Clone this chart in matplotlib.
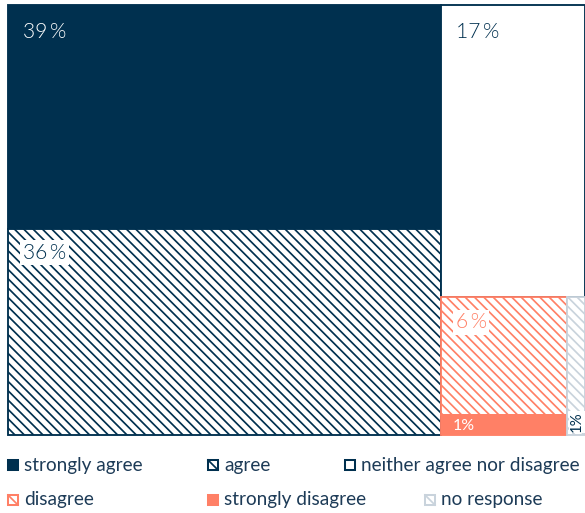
import matplotlib
matplotlib.use("Agg")
import matplotlib.pyplot as plt
import matplotlib.patches as patches

# Data
categories = ["strongly agree", "agree", "neither agree nor disagree",
              "disagree", "strongly disagree", "no response"]
values = [39, 36, 17, 6, 1, 1]

NAVY = "#00304f"
SALMON = "#ff8066"
GREY = "#c9d3dc"
TEXT = "#1d3b57"
HATCH = chr(92) * 4  # backslash hatch, dense

styles = {
    "strongly agree": dict(face=NAVY, edge=NAVY, hatch=None),
    "agree": dict(face="white", edge=NAVY, hatch=HATCH),
    "neither agree nor disagree": dict(face="white", edge=NAVY, hatch=None),
    "disagree": dict(face="white", edge=SALMON, hatch=HATCH),
    "strongly disagree": dict(face=SALMON, edge=SALMON, hatch=None),
    "no response": dict(face="white", edge=GREY, hatch=HATCH),
}

DPI = 112
W_PX, H_PX = 585, 513


def pt(px):
    return px * 72.0 / DPI


def pct(val):
    return f"{val}\u2009%"


plt.rcParams["font.family"] = ["Lato", "DejaVu Sans"]
plt.rcParams["hatch.linewidth"] = 1.1

fig = plt.figure(figsize=(W_PX / DPI, H_PX / DPI), dpi=DPI)
ax = fig.add_axes([8 / W_PX, (H_PX - 435) / H_PX, 577 / W_PX, 430 / H_PX])
ax.set_xlim(0, 100)
ax.set_ylim(100, 0)
ax.axis("off")

# treemap layout: left column (agree side), right column (rest)
total = float(sum(values))
v = dict(zip(categories, values))
rects = {}
left_w = 100 * (v["strongly agree"] + v["agree"]) / total
y = 0
for c in ["strongly agree", "agree"]:
    h = 100 * v[c] / (v["strongly agree"] + v["agree"])
    rects[c] = (0, y, left_w, h)
    y += h
right_total = total - v["strongly agree"] - v["agree"]
right_w = 100 - left_w
h_neither = 100 * v["neither agree nor disagree"] / right_total
rects["neither agree nor disagree"] = (left_w, 0, right_w, h_neither)
bottom_h = 100 - h_neither
bottom_total = v["disagree"] + v["strongly disagree"] + v["no response"]
dis_w = right_w * (v["disagree"] + v["strongly disagree"]) / bottom_total
h_dis = bottom_h * v["disagree"] / (v["disagree"] + v["strongly disagree"])
rects["disagree"] = (left_w, h_neither, dis_w, h_dis)
rects["strongly disagree"] = (left_w, h_neither + h_dis, dis_w, bottom_h - h_dis)
rects["no response"] = (left_w + dis_w, h_neither, right_w - dis_w, bottom_h)

for c in categories:
    x0, y0, w, h = rects[c]
    s = styles[c]
    r = patches.Rectangle((x0, y0), w, h, facecolor=s["face"], edgecolor=s["edge"],
                          hatch=s["hatch"], linewidth=1.2, clip_on=False)
    ax.add_patch(r)

# value labels
big = pt(21)
box = dict(boxstyle="square,pad=0.12", facecolor="white", edgecolor="none")
label_style = {
    "strongly agree": ("white", None, 17),
    "agree": (NAVY, box, 14),
    "neither agree nor disagree": (NAVY, None, 17),
    "disagree": (SALMON, box, 15),
}
for c, (col, bb, dy) in label_style.items():
    ax.annotate(pct(v[c]), (rects[c][0], rects[c][1]),
                xytext=(pt(15), -pt(dy)), textcoords="offset points",
                color=col, fontsize=big, fontweight=300, va="top", ha="left", bbox=bb)

x0, y0, w, h = rects["strongly disagree"]
ax.annotate(f"{v['strongly disagree']}%", (x0, y0 + h / 2), xytext=(pt(12), -pt(1)),
            textcoords="offset points",
            color="white", fontsize=pt(16), va="center", ha="left")
x0, y0, w, h = rects["no response"]
ax.annotate(f"{v['no response']}%", (x0 + w / 2, y0 + h), xytext=(pt(1), pt(3)),
            textcoords="offset points",
            color=NAVY, fontsize=pt(15), va="bottom", ha="center", rotation=90,
            bbox=dict(boxstyle="square,pad=0.05", facecolor="white", edgecolor="none"))

# legend, drawn in pixel coordinates
lg = fig.add_axes([0, 0, 1, 1], zorder=-1)
lg.set_xlim(0, W_PX)
lg.set_ylim(H_PX, 0)
lg.axis("off")
legend_pos = [(8, 465), (208, 465), (345, 465), (8, 500), (208, 500), (425, 500)]
legend_order = ["strongly agree", "agree", "neither agree nor disagree",
                "disagree", "strongly disagree", "no response"]
sq = 10
for c, (lx, ly) in zip(legend_order, legend_pos):
    s = styles[c]
    lg.add_patch(patches.Rectangle((lx, ly - sq / 2), sq, sq, facecolor=s["face"],
                                   edgecolor=s["edge"], linewidth=1.3))
    if s["hatch"]:
        lg.plot([lx, lx + sq], [ly - sq / 2, ly + sq / 2], color=s["edge"], lw=1.1)
    lg.text(lx + 16, ly, c, color=TEXT, fontsize=pt(19), va="center", ha="left")

fig.savefig("out.png", dpi=DPI)
